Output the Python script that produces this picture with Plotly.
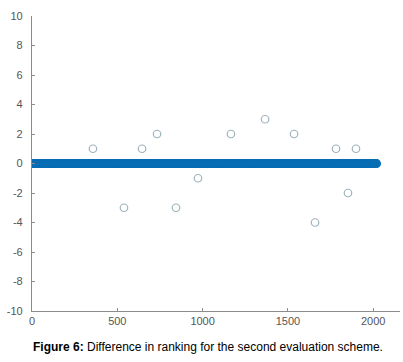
import numpy as np
import plotly.graph_objects as go

# Data
n_items = 2020
outlier_index = [357, 539, 645, 733, 844, 973, 1166, 1366, 1536, 1659, 1782, 1852, 1899]
outlier_diff = [1, -3, 1, 2, -3, -1, 2, 3, 2, -4, 1, -2, 1]
x_ticks = [0, 500, 1000, 1500, 2000]
y_ticks = [-10, -8, -6, -4, -2, 0, 2, 4, 6, 8, 10]

items = np.arange(1, n_items + 1)
diff = np.zeros(n_items)
for i, d in zip(outlier_index, outlier_diff):
    diff[i - 1] = d

zero_mask = diff == 0

fig = go.Figure()
fig.add_trace(go.Scatter(
    x=items[zero_mask], y=diff[zero_mask], mode="markers",
    marker=dict(symbol="circle-open", size=7, color="#0a6fb5", line=dict(width=1.5, color="#0a6fb5")),
    showlegend=False, hoverinfo="skip"))
fig.add_trace(go.Scatter(
    x=items[~zero_mask], y=diff[~zero_mask], mode="markers",
    marker=dict(symbol="circle-open", size=7.5, color="#9fb3bb", line=dict(width=1.2, color="#9fb3bb")),
    showlegend=False, hoverinfo="skip"))

axis_common = dict(showgrid=False, zeroline=False, showline=True, linecolor="#8c8c8c", linewidth=1,
                   ticks="inside", ticklen=3, tickcolor="#8c8c8c", mirror=False,
                   tickfont=dict(family="Liberation Sans, Arial", size=11, color="#555555"))
fig.update_xaxes(range=[0, 2157], tickvals=x_ticks, ticktext=[str(v) for v in x_ticks], **axis_common)
fig.update_yaxes(range=[-10, 10], tickvals=y_ticks, ticktext=[str(v) + "\u00a0\u00a0" for v in y_ticks],
                 **axis_common)

fig.add_annotation(
    text="<b>Figure 6:</b> Difference in ranking for the second evaluation scheme.",
    xref="paper", yref="paper", x=0.477, y=-0.122, xanchor="center", yanchor="middle",
    showarrow=False, font=dict(family="Liberation Sans, Arial", size=12, color="#000000"))

fig.update_layout(
    width=403, height=362, margin=dict(l=32, r=3, t=16, b=51),
    paper_bgcolor="white", plot_bgcolor="white")

fig.write_html("out.html", config={"displayModeBar": False},
               post_script="document.body.style.margin='0';document.body.style.padding='0';")
